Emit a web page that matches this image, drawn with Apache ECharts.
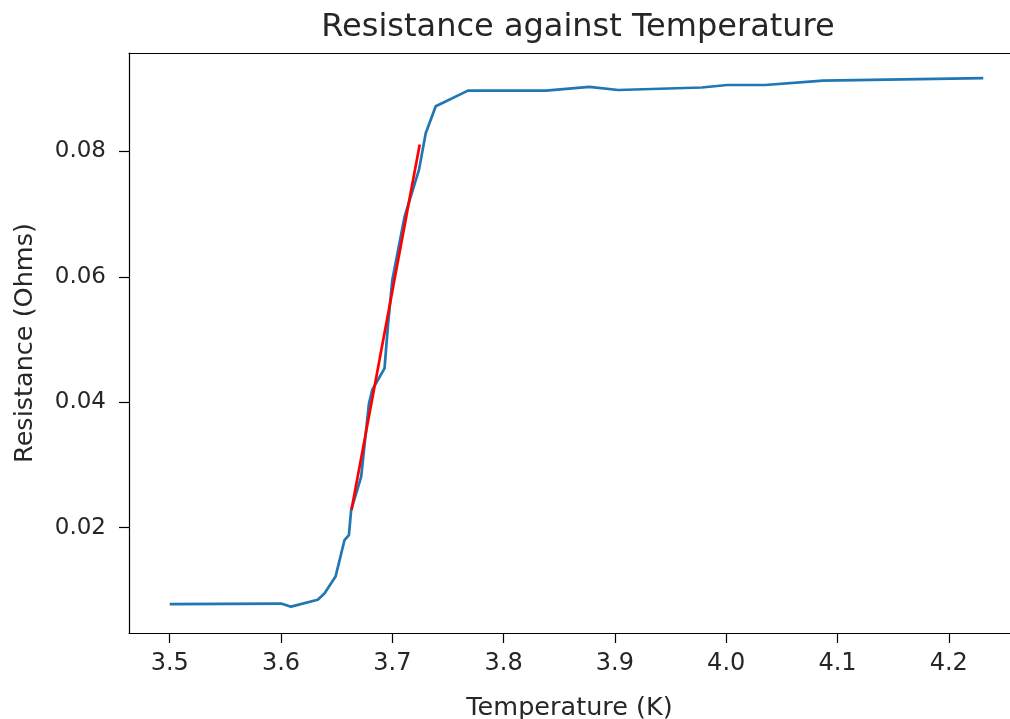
<!DOCTYPE html>
<html>
<head>
<meta charset="utf-8">
<script src="https://cdn.jsdelivr.net/npm/echarts@6/dist/echarts.min.js"></script>
<style>
html,body{margin:0;padding:0;background:#fff;}
#chart{width:1010px;height:719px;}
</style>
</head>
<body>
<div id="chart"></div>
<script>
// Measured data (Temperature in K, Resistance in Ohms)
const temperature = [3.500, 3.600, 3.609, 3.633, 3.639, 3.649, 3.657, 3.661, 3.663, 3.672, 3.679, 3.682, 3.693, 3.696, 3.700, 3.711, 3.724, 3.730, 3.739, 3.768, 3.838, 3.877, 3.903, 3.978, 4.001, 4.035, 4.087, 4.231];
const resistance  = [0.0078, 0.0079, 0.0074, 0.0085, 0.0095, 0.0122, 0.0180, 0.0188, 0.0228, 0.0281, 0.0398, 0.0420, 0.0454, 0.0521, 0.0595, 0.0696, 0.0771, 0.0829, 0.0872, 0.0897, 0.0897, 0.0903, 0.0898, 0.0902, 0.0906, 0.0906, 0.0913, 0.0917];
// Linear fit segment
const fitTemperature = [3.6633, 3.7246];
const fitResistance  = [0.0228, 0.0811];
// Tick labels
const xTicks = [3.5, 3.6, 3.7, 3.8, 3.9, 4.0, 4.1, 4.2];
const yTicks = [0.02, 0.04, 0.06, 0.08];

const FONT = 'DejaVu Sans';
const TXT = '#262626';
const chart = echarts.init(document.getElementById('chart'), null, {renderer: 'canvas'});
const pair = (xs, ys) => xs.map((x, i) => [x, ys[i]]);
const X_MIN = 3.4634, X_MAX = 4.2550;

chart.setOption({
  animation: false,
  backgroundColor: '#ffffff',
  title: {
    text: 'Resistance against Temperature',
    left: 573, top: 7, textAlign: 'center',
    textStyle: {fontFamily: FONT, fontSize: 32, fontWeight: 'normal', color: TXT}
  },
  grid: {left: 129, top: 53, width: 881, height: 580, show: false, outerBoundsMode: 'none', containLabel: false},
  xAxis: [{
    type: 'value', min: X_MIN, max: X_MAX,
    name: 'Temperature (K)', nameLocation: 'middle', nameGap: 62,
    nameTextStyle: {fontFamily: FONT, fontSize: 25.5, color: TXT},
    splitLine: {show: false},
    axisLine: {show: true, onZero: false, lineStyle: {color: '#000', width: 1.2}},
    axisTick: {show: true, length: 10, customValues: xTicks, lineStyle: {color: '#000', width: 1.2}},
    axisLabel: {customValues: xTicks, margin: 19, fontFamily: FONT, fontSize: 24, color: TXT,
      formatter: v => v.toFixed(1)}
  }, {
    type: 'value', position: 'top', min: X_MIN, max: X_MAX,
    splitLine: {show: false},
    axisLine: {show: true, onZero: false, lineStyle: {color: '#000', width: 1.2}},
    axisTick: {show: false}, axisLabel: {show: false}
  }],
  yAxis: {
    type: 'value', min: 0.0032, max: 0.0957,
    name: 'Resistance (Ohms)', nameLocation: 'middle', nameGap: 91,
    nameTextStyle: {fontFamily: FONT, fontSize: 25.5, color: TXT},
    splitLine: {show: false},
    axisLine: {show: true, onZero: false, lineStyle: {color: '#000', width: 1.2}},
    axisTick: {show: true, length: 10, customValues: yTicks, lineStyle: {color: '#000', width: 1.2}},
    axisLabel: {customValues: yTicks, margin: 23, fontFamily: FONT, fontSize: 23, color: TXT,
      formatter: v => v.toFixed(2)}
  },
  series: [
    {type: 'line', data: pair(temperature, resistance), showSymbol: false, symbol: 'none',
      lineStyle: {color: '#1f77b4', width: 2.7}, z: 2},
    {type: 'line', data: pair(fitTemperature, fitResistance), showSymbol: false, symbol: 'none',
      lineStyle: {color: '#ff0000', width: 2.7}, z: 3}
  ]
});
</script>
</body>
</html>
